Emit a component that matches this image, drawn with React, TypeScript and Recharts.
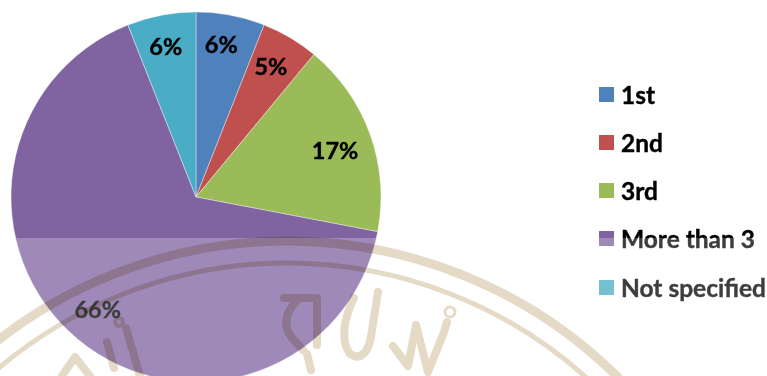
import * as React from "react";
import { PieChart, Pie, Legend } from "recharts";

const categories = ["1st", "2nd", "3rd", "More than 3", "Not specified"];
const shares = [6, 5, 17, 66, 6];
const colors = ["#4f81bd", "#c0504d", "#9bbb59", "#8064a2", "#4bacc6"];

const rows = categories.map((name, i) => ({
  name,
  value: shares[i],
  fill: colors[i],
}));

const FONT = "Lato, 'Open Sans', sans-serif";
const RADIAN = Math.PI / 180;

// hand placement of the percentage labels, per slice
const labelNudge = [
  [-3, -5],
  [-2, -1],
  [-3, 4],
  [-2, -4],
  [-2, -3],
];

function renderShare({ cx, cy, midAngle, value, index }: any) {
  const r = 151;
  const [dx, dy] = labelNudge[index];
  const x = cx + r * Math.cos(-midAngle * RADIAN) + dx;
  const y = cy + r * Math.sin(-midAngle * RADIAN) + dy;
  return (
    <text
      x={x}
      y={y}
      textAnchor="middle"
      dominantBaseline="central"
      fill="#000"
      stroke="#000"
      strokeWidth={0.4}
      fontFamily={FONT}
      fontWeight={700}
      fontSize={23.5}
    >
      {value}%
    </text>
  );
}

function LegendList({ payload }: any) {
  return (
    <div
      style={{
        fontFamily: FONT,
        fontWeight: 700,
        fontSize: 24.5,
        color: "#000",
        WebkitTextStroke: "0.4px #000",
      }}
    >
      {payload.map((entry: any) => (
        <div
          key={entry.value}
          style={{ height: 48.25, display: "flex", alignItems: "center" }}
        >
          <span
            style={{
              width: 15,
              height: 15,
              marginRight: 7,
              flex: "none",
              background: entry.color,
            }}
          />
          <span style={{ whiteSpace: "nowrap" }}>{entry.value}</span>
        </div>
      ))}
    </div>
  );
}

// faint university seal printed across the lower half of the page
function Seal() {
  const ink = {
    fill: "none",
    stroke: "#e4dac6",
    strokeLinecap: "round" as const,
    strokeLinejoin: "round" as const,
  };
  return (
    <svg
      width={767}
      height={376}
      style={{
        position: "absolute",
        left: 0,
        top: 0,
        mixBlendMode: "multiply",
        pointerEvents: "none",
      }}
    >
      <circle cx={287} cy={711} r={470} {...ink} strokeWidth={9} />
      <circle cx={287} cy={711} r={448} {...ink} strokeWidth={5} />
      <g {...ink} strokeWidth={8}>
        <path d="M62 376 L75 357 L90 376" />
        <path d="M126 328 L140 376" />
        <path d="M107 342 L114 368" />
        <circle cx={119} cy={322} r={4} strokeWidth={4} />
        <path d="M284 298 H317 V345 M297 300 C286 312 282 325 292 338 L303 350" />
        <path d="M307 354 L311 370" />
        <path d="M354 298 C344 318 340 340 350 354 C362 362 370 350 372 330 L378 292" />
        <path d="M393 346 L408 366 L416 325 L428 372 L444 332 L447 322" />
        <circle cx={450} cy={312} r={5} strokeWidth={3} />
      </g>
    </svg>
  );
}

export default function App() {
  return (
    <div
      style={{
        position: "absolute",
        left: 0,
        top: 0,
        width: 767,
        height: 376,
        overflow: "hidden",
        background: "#fff",
      }}
    >
      <PieChart
        width={767}
        height={376}
        margin={{ top: 0, right: 0, bottom: 0, left: 0 }}
      >
        <Pie
          data={rows}
          dataKey="value"
          nameKey="name"
          cx={196}
          cy={197}
          outerRadius={185}
          startAngle={90}
          endAngle={-270}
          stroke="rgba(255,255,255,0.5)"
          strokeWidth={0.75}
          label={renderShare}
          labelLine={false}
          isAnimationActive={false}
        />
        <Legend
          content={<LegendList />}
          wrapperStyle={{ left: 599, top: 70, width: 168, bottom: "auto", right: "auto" }}
        />
      </PieChart>
      {/* the lower part of the page is washed out below this edge */}
      <div
        style={{
          position: "absolute",
          left: 0,
          top: 238,
          width: 767,
          height: 138,
          background: "rgba(255,255,255,0.24)",
        }}
      />
      <Seal />
    </div>
  );
}
